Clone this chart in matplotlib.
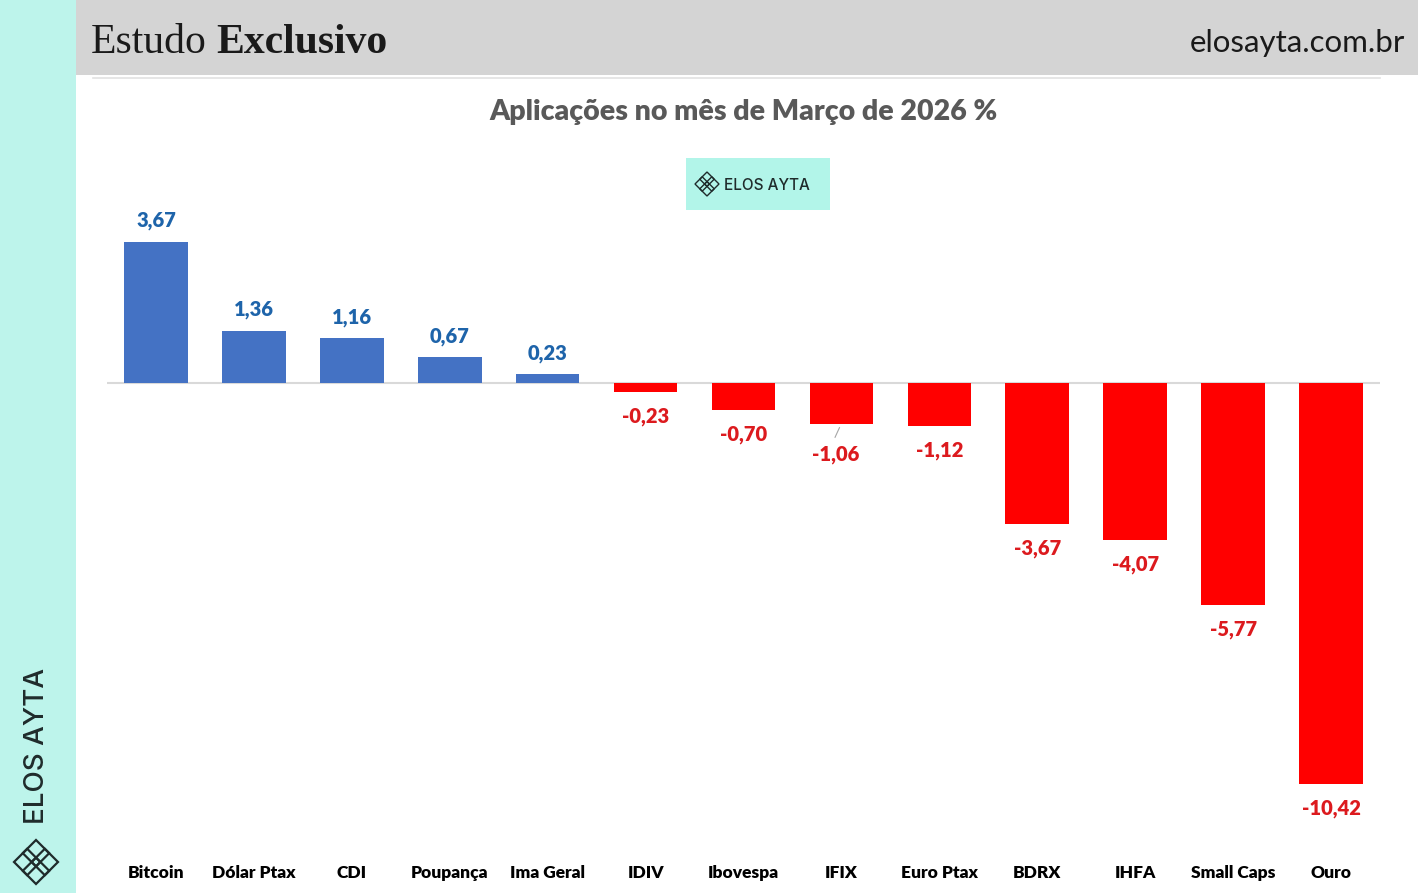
import matplotlib
matplotlib.use("Agg")
import matplotlib.pyplot as plt
from matplotlib.patches import Rectangle, Polygon
from matplotlib.lines import Line2D

# dados do estudo (variação % no mês)
categorias = ["Bitcoin", "Dólar Ptax", "CDI", "Poupança", "Ima Geral", "IDIV",
              "Ibovespa", "IFIX", "Euro Ptax", "BDRX", "IHFA", "Small Caps", "Ouro"]
valores = [3.67, 1.36, 1.16, 0.67, 0.23, -0.23, -0.70, -1.06, -1.12,
           -3.67, -4.07, -5.77, -10.42]

W, H = 1418, 893
fig = plt.figure(figsize=(W / 100, H / 100), dpi=100)
fig.patch.set_facecolor("white")


def fx(px):
    return px / W


def fy(py):
    return 1 - py / H


# barra lateral e cabeçalho
fig.add_artist(Rectangle((0, 0), fx(76), 1, transform=fig.transFigure,
                         color="#BDF4EB", lw=0, zorder=0))
fig.add_artist(Rectangle((fx(76), fy(75)), 1 - fx(76), fy(0) - fy(75),
                         transform=fig.transFigure, color="#D4D4D4", lw=0, zorder=0))
fig.add_artist(Line2D([fx(93), fx(1380)], [fy(78), fy(78)], transform=fig.transFigure,
                      color="#E2E2E2", lw=1.2))

t1 = fig.text(fx(91), fy(53), "Estudo", family="Liberation Serif", fontsize=30,
              color="#1a1a1a", va="baseline")
fig.canvas.draw()
bb = t1.get_window_extent()
fig.text(bb.x1 / W + fx(9), fy(53), "Exclusivo", family="Liberation Serif",
         fontsize=30, weight="bold", color="#1a1a1a", va="baseline")
fig.text(fx(1405), fy(52), "elosayta.com.br", family="Lato", fontsize=22.5,
         color="#1a1a1a", ha="right", va="baseline")


def icone(cx, cy, size, lw):
    # losangos entrelaçados do logo
    r = size * 0.30
    d = size * 0.20
    for ox, oy in [(-d, 0), (d, 0), (0, -d), (0, d)]:
        pts = [(cx + ox, cy + oy - r), (cx + ox + r, cy + oy),
               (cx + ox, cy + oy + r), (cx + ox - r, cy + oy)]
        fig.add_artist(Polygon([(fx(x), fy(y)) for x, y in pts], closed=True,
                               fill=False, ec="#1f2b2b", lw=lw,
                               transform=fig.transFigure, zorder=5))


# logo na barra lateral
fig.text(fx(37), fy(746), "ELOS AYTA", family="Inter", weight="medium", fontsize=20,
         color="#1f2b2b", rotation=90, ha="center", va="center")
icone(36, 862, 44, 1.6)

# área do gráfico
top_px, bot_px, zero_px = 200, 858, 383
escala = 38.5
ax = fig.add_axes([fx(107), fy(bot_px), fx(1380) - fx(107), fy(top_px) - fy(bot_px)])
ax.set_ylim(-(bot_px - zero_px) / escala, (zero_px - top_px) / escala)
ax.set_xlim(-0.5, len(categorias) - 0.5)
ax.patch.set_alpha(0)

cores = ["#4472C4" if v >= 0 else "#FF0000" for v in valores]
x = list(range(len(categorias)))
ax.bar(x, valores, width=0.65, color=cores, zorder=2)
ax.axhline(0, color="#D9D9D9", lw=1.5, zorder=1)

for i, v in enumerate(valores):
    txt = f"{v:.2f}".replace(".", ",")
    cor = "#1E64AA" if v >= 0 else "#DC1A1E"
    off = 15 if v >= 0 else -17.5
    dx = 0
    if categorias[i] == "IFIX":
        # rótulo deslocado com linha guia
        off, dx = -22, -4
        ax.add_line(Line2D([i - 0.02, i - 0.065], [v - 0.1, v - 0.35],
                           color="#A6A6A6", lw=0.8))
    ax.annotate(txt, (i, v), xytext=(dx, off), textcoords="offset points",
                ha="center", va="center", fontsize=14.5, weight="heavy",
                color=cor, family="Lato")

ax.set_xticks(x)
ax.set_xticklabels(categorias, family="Lato", weight="heavy", fontsize=12.5,
                   color="black")
ax.tick_params(axis="x", length=0, pad=5)
ax.set_yticks([])
for s in ax.spines.values():
    s.set_visible(False)

fig.text((fx(107) + fx(1380)) / 2, fy(112), "Aplicações no mês de Março de 2026 %",
         family="Lato", weight="heavy", fontsize=20.5, color="#595959",
         ha="center", va="center")

# selo do logo
fig.add_artist(Rectangle((fx(686), fy(210)), fx(830) - fx(686), fy(158) - fy(210),
                         transform=fig.transFigure, color="#B2F5E9", lw=0))
icone(707, 184, 24, 1.0)
fig.text(fx(724), fy(185), "ELOS AYTA", family="Inter", weight="medium", fontsize=11,
         color="#1f2b2b", va="center")

fig.savefig("out.png", dpi=100)
